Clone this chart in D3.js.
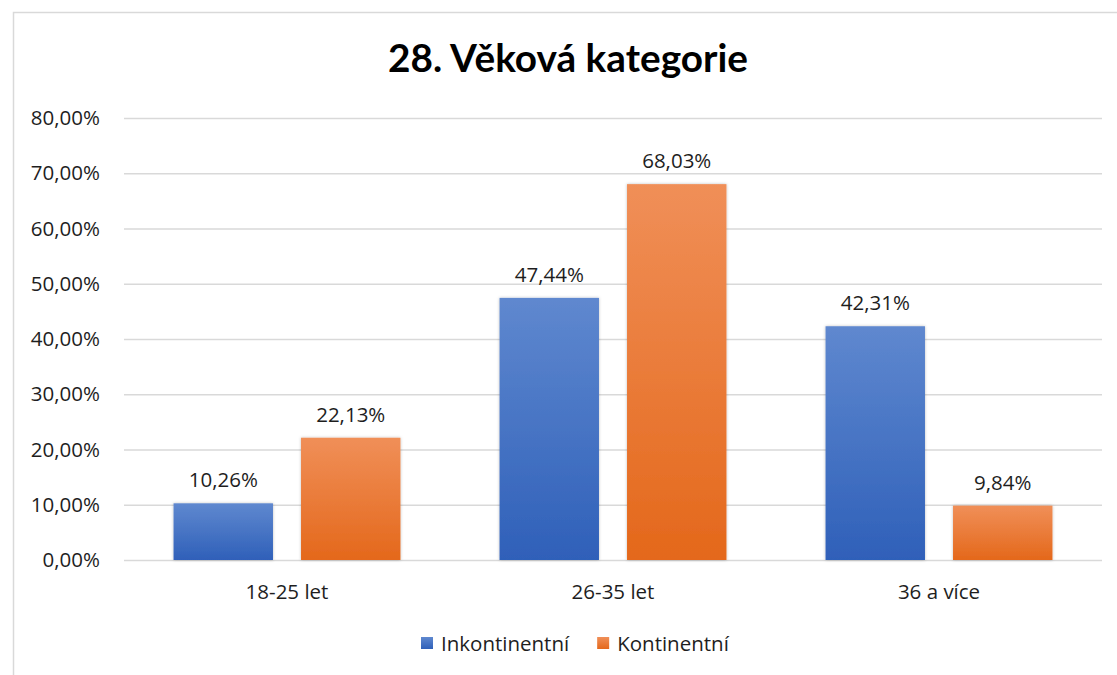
<!DOCTYPE html>
<html lang="cs">
<head>
  <meta charset="UTF-8">
  <title>28. Věková kategorie</title>
  <script src="https://cdn.jsdelivr.net/npm/d3@7"></script>
  <style>
    html, body {
      margin: 0;
      padding: 0;
      background: #fff;
    }
    svg text {
      font-family: "Open Sans", "Noto Sans", sans-serif;
      fill: #1e1e1e;
    }
  </style>
</head>
<body>
  <svg id="chart" width="1117" height="675"></svg>
  <script>
    // data
    const categories = ['18-25 let', '26-35 let', '36 a více'];
    const seriesNames = ['Inkontinentní', 'Kontinentní'];
    const inkontinentni = [0.1026, 0.4744, 0.4231];
    const kontinentni = [0.2213, 0.6803, 0.0984];
    const yTicks = [0, 0.1, 0.2, 0.3, 0.4, 0.5, 0.6, 0.7, 0.8];

    const colors = {
      'Inkontinentní': ['#5f88cf', '#2f60b9'],
      'Kontinentní': ['#f08f58', '#e4681b']
    };

    const rows = categories.map((c, i) => ({
      cat: c,
      values: [
        {key: seriesNames[0], value: inkontinentni[i]},
        {key: seriesNames[1], value: kontinentni[i]}
      ]
    }));

    const cz = d3.formatLocale({decimal: ',', thousands: ' ', grouping: [3], currency: ['', ' Kč']});
    const pct = cz.format('.2%');
    const fs = 20.5;

    const svg = d3.select('#chart');
    const plotL = 124, plotR = 1102, plotT = 118, plotB = 560;

    // outer frame of the chart area
    svg.append('rect')
      .attr('x', 13.5).attr('y', 12.5)
      .attr('width', 1120).attr('height', 700)
      .attr('fill', 'none')
      .attr('stroke', '#d9d9d9')
      .attr('stroke-width', 1.5);

    const defs = svg.append('defs');
    seriesNames.forEach((s, i) => {
      const g = defs.append('linearGradient')
        .attr('id', 'grad' + i)
        .attr('x1', 0).attr('y1', 0).attr('x2', 0).attr('y2', 1);
      g.append('stop').attr('offset', '0%').attr('stop-color', colors[s][0]);
      g.append('stop').attr('offset', '100%').attr('stop-color', colors[s][1]);
    });
    const shadow = defs.append('filter').attr('id', 'shadow')
      .attr('x', '-10%').attr('y', '-10%').attr('width', '120%').attr('height', '120%');
    shadow.append('feDropShadow')
      .attr('dx', 0).attr('dy', 0).attr('stdDeviation', 1.5)
      .attr('flood-color', '#000').attr('flood-opacity', 0.25);

    const x0 = d3.scaleBand()
      .domain(categories)
      .range([plotL, plotR])
      .paddingInner(0.304)
      .paddingOuter(0.152);

    const x1 = d3.scaleBand()
      .domain(seriesNames)
      .range([0, x0.bandwidth()])
      .paddingInner(0.22);

    const y = d3.scaleLinear().domain([0, 0.8]).range([plotB, plotT]);

    // y axis + gridlines
    const yAxis = svg.append('g')
      .attr('transform', `translate(${plotL},0)`)
      .call(d3.axisLeft(y)
        .tickValues(yTicks)
        .tickFormat(pct)
        .tickSize(-(plotR - plotL))
        .tickPadding(24));
    yAxis.select('.domain').remove();
    yAxis.selectAll('line')
      .attr('stroke', '#d9d9d9')
      .attr('stroke-width', 1.5);
    yAxis.selectAll('text')
      .attr('font-size', fs)
      .attr('fill', '#1e1e1e');

    // bars
    const groups = svg.selectAll('g.cat')
      .data(rows)
      .join('g')
      .attr('class', 'cat')
      .attr('transform', d => `translate(${x0(d.cat)},0)`);

    groups.selectAll('rect')
      .data(d => d.values)
      .join('rect')
      .attr('x', d => x1(d.key))
      .attr('y', d => y(d.value))
      .attr('width', x1.bandwidth())
      .attr('height', d => y(0) - y(d.value))
      .attr('fill', d => 'url(#grad' + seriesNames.indexOf(d.key) + ')')
      .attr('filter', 'url(#shadow)');

    groups.selectAll('text.val')
      .data(d => d.values)
      .join('text')
      .attr('class', 'val')
      .attr('x', d => x1(d.key) + x1.bandwidth() / 2)
      .attr('y', d => y(d.value) - 16)
      .attr('text-anchor', 'middle')
      .attr('font-size', fs)
      .text(d => pct(d.value));

    // x axis labels
    const xAxis = svg.append('g')
      .attr('transform', `translate(0,${plotB})`)
      .call(d3.axisBottom(x0).tickSize(0).tickPadding(0));
    xAxis.select('.domain').remove();
    xAxis.selectAll('text')
      .attr('dy', null)
      .attr('y', 39)
      .attr('font-size', fs)
      .attr('fill', '#1e1e1e');

    // title
    svg.append('text')
      .attr('x', 568)
      .attr('y', 72)
      .attr('text-anchor', 'middle')
      .attr('font-size', 39)
      .attr('font-weight', 'bold')
      .attr('textLength', 360)
      .attr('lengthAdjust', 'spacingAndGlyphs')
      .style('font-family', 'Lato, "Open Sans", sans-serif')
      .style('fill', '#000')
      .text('28. Věková kategorie');

    // legend
    const legend = svg.append('g').attr('transform', 'translate(421,643)');
    let lx = 0;
    seriesNames.forEach((s, i) => {
      const item = legend.append('g').attr('transform', `translate(${lx},0)`);
      item.append('rect')
        .attr('x', 0).attr('y', -6)
        .attr('width', 12).attr('height', 12)
        .attr('fill', 'url(#grad' + i + ')');
      const t = item.append('text')
        .attr('x', 20).attr('y', 7.5)
        .attr('font-size', fs)
        .text(s);
      lx += 20 + t.node().getComputedTextLength() + 28;
    });
  </script>
</body>
</html>
